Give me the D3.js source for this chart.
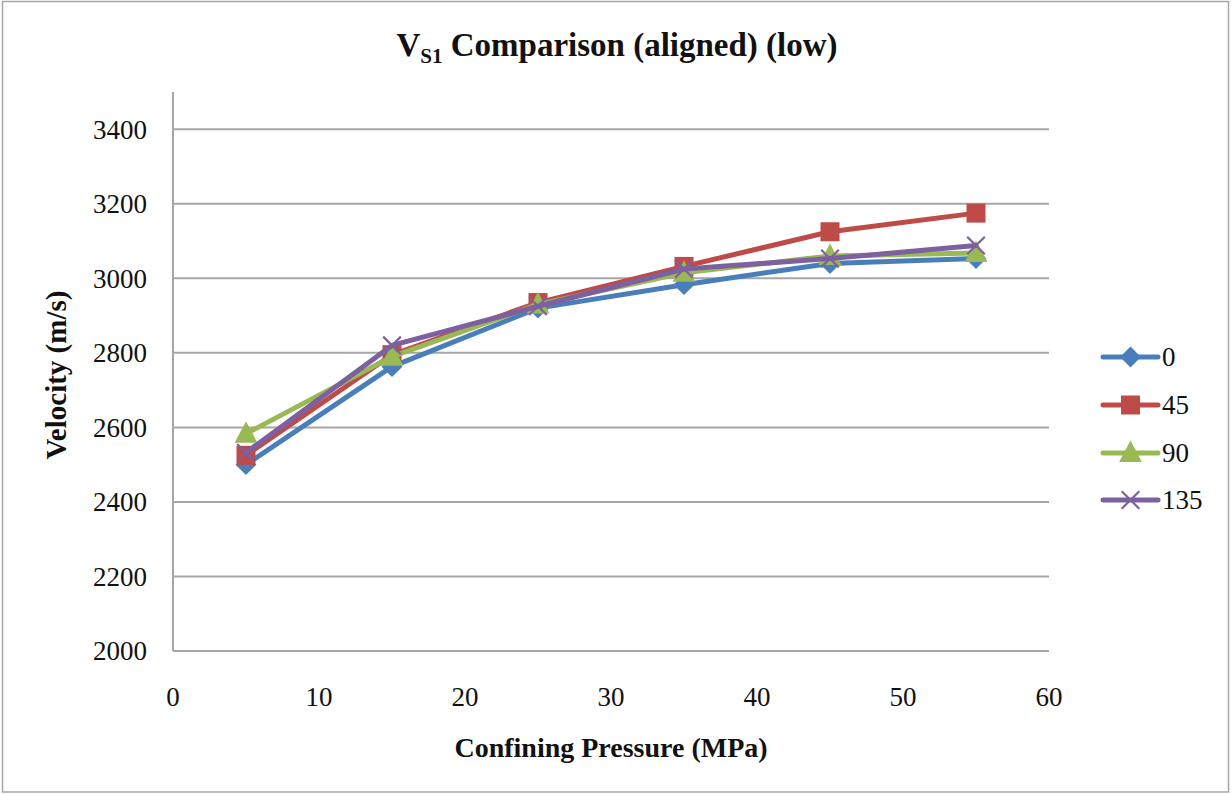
<!DOCTYPE html>
<html lang="en">
<head>
  <meta charset="utf-8">
  <title>VS1 Comparison (aligned) (low)</title>
  <script src="https://d3js.org/d3.v7.min.js"></script>
  <style>
    body { margin: 0; background: #fff; }
    svg { display: block; font-family: "Liberation Serif", "DejaVu Serif", serif; }
    .grid line { stroke: #a6a6a6; stroke-width: 2px; }
    .tick-label { font-size: 27px; fill: #111; }
  </style>
</head>
<body>
  <div id="chart"></div>
  <script>
    // Chart values
    const pressures = [5, 15, 25, 35, 45, 55];
    const seriesNames = ["0", "45", "90", "135"];
    const v0   = [2500, 2763, 2920, 2983, 3040, 3053];
    const v45  = [2525, 2795, 2935, 3032, 3125, 3175];
    const v90  = [2583, 2790, 2930, 3015, 3060, 3068];
    const v135 = [2532, 2820, 2925, 3025, 3053, 3088];
    const yTicks = [2000, 2200, 2400, 2600, 2800, 3000, 3200, 3400];
    const xTicks = [0, 10, 20, 30, 40, 50, 60];

    const colors = ["#4a7ebb", "#be4b48", "#98b954", "#7d60a0"];
    const symbols = ["diamond", "square", "triangle", "cross"];
    const allSeries = [v0, v45, v90, v135];

    const width = 1232, height = 794;
    const plot = { left: 173, right: 1049, top: 92, bottom: 651 };

    const svg = d3.select("#chart").append("svg")
      .attr("width", width)
      .attr("height", height);

    // outer frame
    svg.append("rect")
      .attr("x", 2.5).attr("y", 1.5)
      .attr("width", 1226).attr("height", 790.5)
      .attr("fill", "#fff")
      .attr("stroke", "#a6a6a6")
      .attr("stroke-width", 1.5);

    const x = d3.scaleLinear().domain([0, 60]).range([plot.left, plot.right]);
    const y = d3.scaleLinear().domain([2000, 3500]).range([plot.bottom, plot.top]);

    // horizontal grid lines
    svg.append("g").attr("class", "grid")
      .selectAll("line")
      .data(yTicks.slice(1))
      .join("line")
      .attr("x1", plot.left).attr("x2", plot.right)
      .attr("y1", d => y(d)).attr("y2", d => y(d));

    // axes lines
    svg.append("line")
      .attr("x1", plot.left).attr("x2", plot.left)
      .attr("y1", plot.top).attr("y2", plot.bottom)
      .attr("stroke", "#a6a6a6").attr("stroke-width", 2);
    svg.append("line")
      .attr("x1", plot.left).attr("x2", plot.right)
      .attr("y1", plot.bottom).attr("y2", plot.bottom)
      .attr("stroke", "#a6a6a6").attr("stroke-width", 2);

    // tick labels
    svg.append("g").selectAll("text")
      .data(yTicks)
      .join("text")
      .attr("class", "tick-label")
      .attr("x", 147)
      .attr("y", d => y(d))
      .attr("dy", "0.35em")
      .attr("text-anchor", "end")
      .text(d => d);

    svg.append("g").selectAll("text")
      .data(xTicks)
      .join("text")
      .attr("class", "tick-label")
      .attr("x", d => x(d))
      .attr("y", 697)
      .attr("dy", "0.35em")
      .attr("text-anchor", "middle")
      .text(d => d);

    // title
    const title = svg.append("text")
      .attr("x", 617).attr("y", 56)
      .attr("text-anchor", "middle")
      .style("font-size", "33px")
      .style("font-weight", "bold")
      .attr("fill", "#111");
    title.append("tspan").text("V");
    title.append("tspan").attr("dy", 7).style("font-size", "21px").text("S1");
    title.append("tspan").attr("dy", -7).text(" Comparison (aligned) (low)");

    // axis titles
    svg.append("text")
      .attr("x", 611).attr("y", 757)
      .attr("text-anchor", "middle")
      .style("font-size", "28px")
      .style("font-weight", "bold")
      .attr("fill", "#111")
      .text("Confining Pressure (MPa)");

    svg.append("text")
      .attr("transform", "translate(66,375) rotate(-90)")
      .attr("text-anchor", "middle")
      .style("font-size", "29px")
      .style("font-weight", "bold")
      .attr("fill", "#111")
      .text("Velocity (m/s)");

    // marker drawing
    function drawMarker(g, type, color, size) {
      if (type === "diamond") {
        const s = size * 0.55;
        g.append("path").attr("d", `M0,${-s}L${s},0L0,${s}L${-s},0Z`)
          .attr("fill", color);
      } else if (type === "square") {
        g.append("rect").attr("x", -size / 2).attr("y", -size / 2)
          .attr("width", size).attr("height", size).attr("fill", color);
      } else if (type === "triangle") {
        const s = size * 0.6;
        g.append("path").attr("d", `M0,${-s * 1.1}L${s},${s * 0.8}L${-s},${s * 0.8}Z`).attr("fill", color);
      } else {
        const s = size * 0.55;
        g.append("path").attr("d", `M${-s},${-s}L${s},${s}M${-s},${s}L${s},${-s}`)
          .attr("stroke", color).attr("stroke-width", 2.2).attr("fill", "none");
      }
    }

    const line = d3.line().x(d => x(d[0])).y(d => y(d[1]));

    allSeries.forEach((vals, i) => {
      const pts = pressures.map((p, j) => [p, vals[j]]);
      const g = svg.append("g");
      g.append("path")
        .datum(pts)
        .attr("d", line)
        .attr("fill", "none")
        .attr("stroke", colors[i])
        .attr("stroke-width", 5)
        .attr("stroke-linejoin", "round")
        .attr("stroke-linecap", "round");
      pts.forEach(pt => {
        const m = g.append("g").attr("transform", `translate(${x(pt[0])},${y(pt[1])})`);
        drawMarker(m, symbols[i], colors[i], symbols[i] === "cross" ? 16 : 19);
      });
    });

    // legend
    const legendY = [357, 405, 453, 500];
    seriesNames.forEach((name, i) => {
      const g = svg.append("g").attr("transform", `translate(1103,${legendY[i]})`);
      g.append("line").attr("x1", 0).attr("x2", 55).attr("y1", 0).attr("y2", 0)
        .attr("stroke", colors[i]).attr("stroke-width", 5).attr("stroke-linecap", "round");
      const m = g.append("g").attr("transform", "translate(27.5,0)");
      drawMarker(m, symbols[i], colors[i], symbols[i] === "cross" ? 16 : 19);
      g.append("text").attr("class", "tick-label")
        .attr("x", 59).attr("y", 0).attr("dy", "0.35em")
        .text(name);
    });
  </script>
</body>
</html>
